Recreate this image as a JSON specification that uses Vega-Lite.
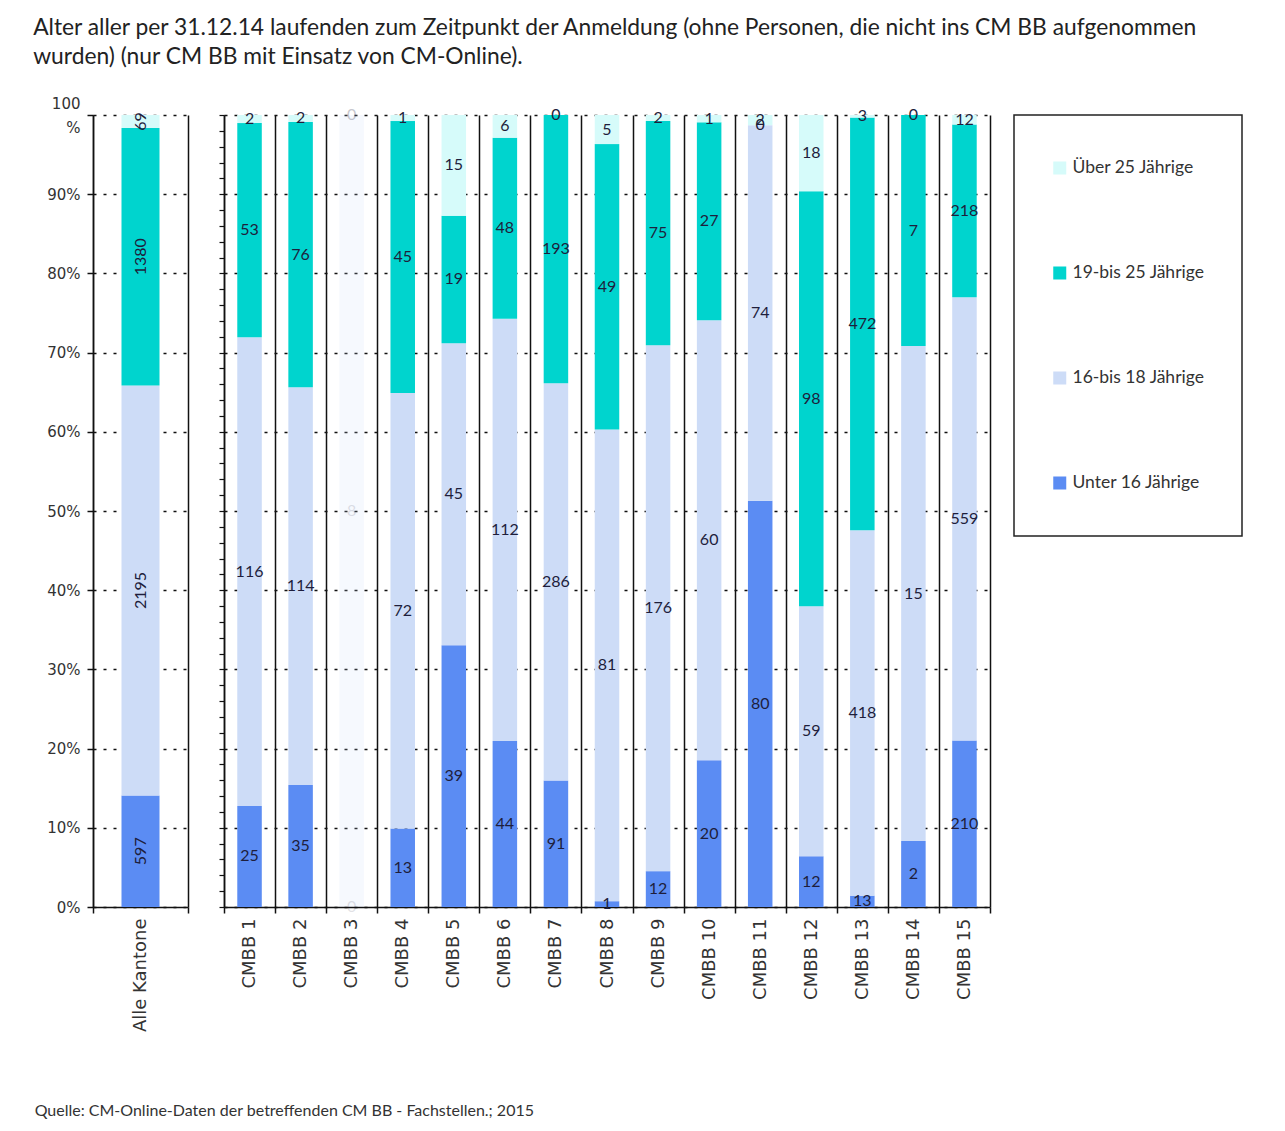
{
  "$schema": "https://vega.github.io/schema/vega-lite/v6.json",
  "background": "white",
  "padding": {"left": 33, "top": 17, "right": 5, "bottom": 5},
  "title": {
    "text": ["Alter aller per 31.12.14 laufenden zum Zeitpunkt der Anmeldung (ohne Personen, die nicht ins CM BB aufgenommen", "wurden) (nur CM BB mit Einsatz von CM-Online)."],
    "anchor": "start", "font": "Lato", "fontSize": 22.8, "fontWeight": "normal", "color": "#222222", "lineHeight": 29, "offset": 27, "dx": -1.5
  },
  "datasets": {
    "d": [
      {"Gruppe": "Alle Kantone", "Alter": "Unter 16 Jährige", "Anzahl": 597},
      {"Gruppe": "Alle Kantone", "Alter": "16-bis 18 Jährige", "Anzahl": 2195},
      {"Gruppe": "Alle Kantone", "Alter": "19-bis 25 Jährige", "Anzahl": 1380},
      {"Gruppe": "Alle Kantone", "Alter": "Über 25 Jährige", "Anzahl": 69},
      {"Gruppe": "CMBB 1", "Alter": "Unter 16 Jährige", "Anzahl": 25},
      {"Gruppe": "CMBB 1", "Alter": "16-bis 18 Jährige", "Anzahl": 116},
      {"Gruppe": "CMBB 1", "Alter": "19-bis 25 Jährige", "Anzahl": 53},
      {"Gruppe": "CMBB 1", "Alter": "Über 25 Jährige", "Anzahl": 2},
      {"Gruppe": "CMBB 2", "Alter": "Unter 16 Jährige", "Anzahl": 35},
      {"Gruppe": "CMBB 2", "Alter": "16-bis 18 Jährige", "Anzahl": 114},
      {"Gruppe": "CMBB 2", "Alter": "19-bis 25 Jährige", "Anzahl": 76},
      {"Gruppe": "CMBB 2", "Alter": "Über 25 Jährige", "Anzahl": 2},
      {"Gruppe": "CMBB 3", "Alter": "Unter 16 Jährige", "Anzahl": 0},
      {"Gruppe": "CMBB 3", "Alter": "16-bis 18 Jährige", "Anzahl": 8},
      {"Gruppe": "CMBB 3", "Alter": "19-bis 25 Jährige", "Anzahl": 0},
      {"Gruppe": "CMBB 3", "Alter": "Über 25 Jährige", "Anzahl": 0},
      {"Gruppe": "CMBB 4", "Alter": "Unter 16 Jährige", "Anzahl": 13},
      {"Gruppe": "CMBB 4", "Alter": "16-bis 18 Jährige", "Anzahl": 72},
      {"Gruppe": "CMBB 4", "Alter": "19-bis 25 Jährige", "Anzahl": 45},
      {"Gruppe": "CMBB 4", "Alter": "Über 25 Jährige", "Anzahl": 1},
      {"Gruppe": "CMBB 5", "Alter": "Unter 16 Jährige", "Anzahl": 39},
      {"Gruppe": "CMBB 5", "Alter": "16-bis 18 Jährige", "Anzahl": 45},
      {"Gruppe": "CMBB 5", "Alter": "19-bis 25 Jährige", "Anzahl": 19},
      {"Gruppe": "CMBB 5", "Alter": "Über 25 Jährige", "Anzahl": 15},
      {"Gruppe": "CMBB 6", "Alter": "Unter 16 Jährige", "Anzahl": 44},
      {"Gruppe": "CMBB 6", "Alter": "16-bis 18 Jährige", "Anzahl": 112},
      {"Gruppe": "CMBB 6", "Alter": "19-bis 25 Jährige", "Anzahl": 48},
      {"Gruppe": "CMBB 6", "Alter": "Über 25 Jährige", "Anzahl": 6},
      {"Gruppe": "CMBB 7", "Alter": "Unter 16 Jährige", "Anzahl": 91},
      {"Gruppe": "CMBB 7", "Alter": "16-bis 18 Jährige", "Anzahl": 286},
      {"Gruppe": "CMBB 7", "Alter": "19-bis 25 Jährige", "Anzahl": 193},
      {"Gruppe": "CMBB 7", "Alter": "Über 25 Jährige", "Anzahl": 0},
      {"Gruppe": "CMBB 8", "Alter": "Unter 16 Jährige", "Anzahl": 1},
      {"Gruppe": "CMBB 8", "Alter": "16-bis 18 Jährige", "Anzahl": 81},
      {"Gruppe": "CMBB 8", "Alter": "19-bis 25 Jährige", "Anzahl": 49},
      {"Gruppe": "CMBB 8", "Alter": "Über 25 Jährige", "Anzahl": 5},
      {"Gruppe": "CMBB 9", "Alter": "Unter 16 Jährige", "Anzahl": 12},
      {"Gruppe": "CMBB 9", "Alter": "16-bis 18 Jährige", "Anzahl": 176},
      {"Gruppe": "CMBB 9", "Alter": "19-bis 25 Jährige", "Anzahl": 75},
      {"Gruppe": "CMBB 9", "Alter": "Über 25 Jährige", "Anzahl": 2},
      {"Gruppe": "CMBB 10", "Alter": "Unter 16 Jährige", "Anzahl": 20},
      {"Gruppe": "CMBB 10", "Alter": "16-bis 18 Jährige", "Anzahl": 60},
      {"Gruppe": "CMBB 10", "Alter": "19-bis 25 Jährige", "Anzahl": 27},
      {"Gruppe": "CMBB 10", "Alter": "Über 25 Jährige", "Anzahl": 1},
      {"Gruppe": "CMBB 11", "Alter": "Unter 16 Jährige", "Anzahl": 80},
      {"Gruppe": "CMBB 11", "Alter": "16-bis 18 Jährige", "Anzahl": 74},
      {"Gruppe": "CMBB 11", "Alter": "19-bis 25 Jährige", "Anzahl": 0},
      {"Gruppe": "CMBB 11", "Alter": "Über 25 Jährige", "Anzahl": 2},
      {"Gruppe": "CMBB 12", "Alter": "Unter 16 Jährige", "Anzahl": 12},
      {"Gruppe": "CMBB 12", "Alter": "16-bis 18 Jährige", "Anzahl": 59},
      {"Gruppe": "CMBB 12", "Alter": "19-bis 25 Jährige", "Anzahl": 98},
      {"Gruppe": "CMBB 12", "Alter": "Über 25 Jährige", "Anzahl": 18},
      {"Gruppe": "CMBB 13", "Alter": "Unter 16 Jährige", "Anzahl": 13},
      {"Gruppe": "CMBB 13", "Alter": "16-bis 18 Jährige", "Anzahl": 418},
      {"Gruppe": "CMBB 13", "Alter": "19-bis 25 Jährige", "Anzahl": 472},
      {"Gruppe": "CMBB 13", "Alter": "Über 25 Jährige", "Anzahl": 3},
      {"Gruppe": "CMBB 14", "Alter": "Unter 16 Jährige", "Anzahl": 2},
      {"Gruppe": "CMBB 14", "Alter": "16-bis 18 Jährige", "Anzahl": 15},
      {"Gruppe": "CMBB 14", "Alter": "19-bis 25 Jährige", "Anzahl": 7},
      {"Gruppe": "CMBB 14", "Alter": "Über 25 Jährige", "Anzahl": 0},
      {"Gruppe": "CMBB 15", "Alter": "Unter 16 Jährige", "Anzahl": 210},
      {"Gruppe": "CMBB 15", "Alter": "16-bis 18 Jährige", "Anzahl": 559},
      {"Gruppe": "CMBB 15", "Alter": "19-bis 25 Jährige", "Anzahl": 218},
      {"Gruppe": "CMBB 15", "Alter": "Über 25 Jährige", "Anzahl": 12}
    ]
  },
  "data": {"name": "d"},
  "transform": [
    {"calculate": "indexof(['Unter 16 Jährige','16-bis 18 Jährige','19-bis 25 Jährige','Über 25 Jährige'], datum.Alter)", "as": "o"},
    {"stack": "Anzahl", "groupby": ["Gruppe"], "sort": [{"field": "o", "order": "ascending"}], "offset": "normalize", "as": ["y0", "y1"]},
    {"calculate": "(datum.y0 + datum.y1) / 2", "as": "ym"}
  ],
  "vconcat": [
    {
      "bounds": "flush",
      "spacing": 36,
      "title": {"text": "Quelle: CM-Online-Daten der betreffenden CM BB - Fachstellen.; 2015", "orient": "bottom", "anchor": "start", "font": "Lato", "fontSize": 16, "fontWeight": "normal", "color": "#333333", "offset": 71, "dx": -12},
      "hconcat": [
        {
          "width": 95,
          "height": 792,
          "transform": [{"filter": "datum.Gruppe === 'Alle Kantone'"}],
          "encoding": {
            "x": {
              "field": "Gruppe", "type": "nominal",
              "scale": {"paddingInner": 0, "paddingOuter": 0},
              "axis": {"title": null, "labelAngle": -90, "labelFont": "DejaVu Sans", "labelFontSize": 18, "labelColor": "#333333", "labelPadding": 5, "tickBand": "extent", "tickSize": 6, "tickColor": "#111111", "tickWidth": 1.5, "grid": true, "gridColor": "#111111", "gridWidth": 1.5, "gridDash": [], "domainColor": "#111111", "domainWidth": 1.5}
            }
          },
          "layer": [
            {
              "mark": {"type": "bar", "width": {"band": 0.4}},
              "encoding": {
                "y": {
                  "field": "y0", "type": "quantitative",
                  "scale": {"domain": [0, 1], "nice": false, "zero": true},
                  "axis": {"title": null, "values": [0, 0.1, 0.2, 0.3, 0.4, 0.5, 0.6, 0.7, 0.8, 0.9, 1], "labelExpr": "datum.value >= 0.999 ? ['100', '%'] : format(datum.value, '.0%')", "labelOffset": {"condition": {"test": "datum.value >= 0.999", "value": -12}, "value": 0}, "labelFont": "DejaVu Sans", "labelFontSize": 15, "labelColor": "#333333", "labelLineHeight": 24, "labelPadding": 7, "tickSize": 6, "tickColor": "#111111", "tickWidth": 1.5, "domainColor": "#111111", "domainWidth": 1.5, "grid": true, "gridColor": "#111111", "gridWidth": 1.5, "gridDash": [3, 7]}
                },
                "y2": {"field": "y1"},
                "color": {
                  "field": "Alter", "type": "nominal",
                  "scale": {"domain": ["Über 25 Jährige", "19-bis 25 Jährige", "16-bis 18 Jährige", "Unter 16 Jährige"], "range": ["#D6FBFA", "#00D4CE", "#CDDCF7", "#5B8CF3"]},
                  "legend": {"title": null}
                }
              }
            },
            {
              "mark": {"type": "text", "angle": 270, "font": "Lato", "fontSize": 16, "color": "#1e1e3c"},
              "encoding": {
                "y": {"field": "ym", "type": "quantitative"},
                "text": {"field": "Anzahl", "type": "quantitative"}
              }
            }
          ]
        },
        {
          "width": 766,
          "height": 792,
          "transform": [{"filter": "datum.Gruppe !== 'Alle Kantone'"}],
          "encoding": {
            "x": {
              "field": "Gruppe", "type": "nominal",
              "sort": ["CMBB 1", "CMBB 2", "CMBB 3", "CMBB 4", "CMBB 5", "CMBB 6", "CMBB 7", "CMBB 8", "CMBB 9", "CMBB 10", "CMBB 11", "CMBB 12", "CMBB 13", "CMBB 14", "CMBB 15"],
              "scale": {"paddingInner": 0, "paddingOuter": 0},
              "axis": {"title": null, "labelAngle": -90, "labelExpr": "length(datum.label) < 7 ? replace(datum.label, ' ', '  ') : datum.label", "labelFont": "DejaVu Sans", "labelFontSize": 18, "labelColor": "#333333", "labelPadding": 5, "tickBand": "extent", "tickSize": 6, "tickColor": "#111111", "tickWidth": 1.5, "grid": true, "gridColor": "#111111", "gridWidth": 1.5, "gridDash": [], "domainColor": "#111111", "domainWidth": 1.5}
            }
          },
          "layer": [
            {
              "mark": {"type": "bar", "width": {"band": 0.48}},
              "encoding": {
                "y": {
                  "field": "y0", "type": "quantitative",
                  "scale": {"domain": [0, 1], "nice": false, "zero": true},
                  "axis": {"orient": "left", "title": null, "labels": false, "grid": false, "values": [0, 0.02, 0.04, 0.06, 0.08, 0.1, 0.12, 0.14, 0.16, 0.18, 0.2, 0.22, 0.24, 0.26, 0.28, 0.3, 0.32, 0.34, 0.36, 0.38, 0.4, 0.42, 0.44, 0.46, 0.48, 0.5, 0.52, 0.54, 0.56, 0.58, 0.6, 0.62, 0.64, 0.66, 0.68, 0.7, 0.72, 0.74, 0.76, 0.78, 0.8, 0.82, 0.84, 0.86, 0.88, 0.9, 0.92, 0.94, 0.96, 0.98, 1], "tickSize": 5, "tickColor": "#111111", "tickWidth": 1.2, "domainColor": "#111111", "domainWidth": 1.5, "minExtent": 0}
                },
                "y2": {"field": "y1"},
                "color": {"field": "Alter", "type": "nominal", "legend": {"title": null}},
                "opacity": {"condition": {"test": "datum.Gruppe === 'CMBB 3'", "value": 0.18}, "value": 1}
              }
            },
            {
              "mark": {"type": "text", "font": "Lato", "fontSize": 16, "color": "#1e1e3c"},
              "encoding": {
                "y": {
                  "field": "ym", "type": "quantitative",
                  "axis": {"orient": "left", "title": null, "labels": false, "ticks": false, "domain": false, "grid": true, "gridColor": "#111111", "gridWidth": 1.5, "gridDash": [3, 7], "values": [0, 0.1, 0.2, 0.3, 0.4, 0.5, 0.6, 0.7, 0.8, 0.9, 1], "minExtent": 0}
                },
                "text": {"field": "Anzahl", "type": "quantitative"},
                "opacity": {"condition": {"test": "datum.Gruppe === 'CMBB 3'", "value": 0.13}, "value": 1}
              }
            }
          ],
          "resolve": {"axis": {"y": "independent"}}
        }
      ]
    }
  ],
  "config": {
    "view": {"stroke": null},
    "legend": {"orient": "right", "offset": 23, "padding": 37, "clipHeight": 32, "rowPadding": 73, "strokeColor": "#222222", "strokeWidth": 1.5, "symbolType": "square", "symbolSize": 169, "symbolStrokeWidth": 0, "labelFont": "Lato", "labelFontSize": 17.5, "labelColor": "#333333", "labelOffset": 4}
  }
}
